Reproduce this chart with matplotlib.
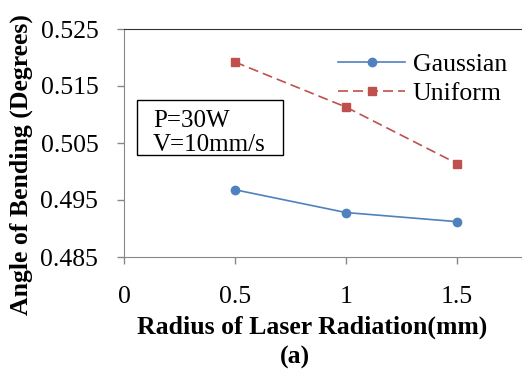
import matplotlib
matplotlib.use("Agg")
import matplotlib.pyplot as plt
from matplotlib.patches import Rectangle

# data
radius   = [0.5, 1.0, 1.5]
gaussian = [0.4968, 0.4928, 0.4912]
uniform  = [0.5192, 0.5113, 0.5014]
yticks   = [0.485, 0.495, 0.505, 0.515, 0.525]
xticks   = [0, 0.5, 1, 1.5]

plt.rcParams["font.family"] = ["Liberation Serif", "DejaVu Serif"]
FS = 18.5

W, H = 522, 369
L, R, T, B = 124, 522, 29, 257


def ax_x(px):
    return (px - L) / (R - L)


def ax_y(py):
    return (B - py) / (B - T)


fig = plt.figure(figsize=(W / 100, H / 100), dpi=100)
ax = fig.add_axes([L / W, 1 - B / H, (R - L) / W, (B - T) / H])

ax.plot(radius, gaussian, color="#4F81BD", marker="o", markersize=6,
        linewidth=1.2, label="Gaussian")
ax.plot(radius, uniform, color="#C0504D", marker="s", markersize=5.5,
        linewidth=1.2, linestyle=(0, (6, 3)), label="Uniform")

ax.set_xlim(0, 1.793)
ax.set_ylim(0.485, 0.525)
ax.set_xticks(xticks)
ax.set_xticklabels(["0", "0.5", "1", "1.5"])
ax.set_yticks(yticks)
ax.set_yticklabels([f"{v:.3f}" for v in yticks])

for s in ("left", "bottom"):
    ax.spines[s].set_color("#888888")
ax.spines["top"].set_color("#333333")
ax.spines["right"].set_visible(False)
ax.tick_params(axis="both", colors="#888888", labelcolor="black",
               labelsize=FS, length=5, width=1)
ax.tick_params(axis="x", pad=16)
ax.tick_params(axis="y", pad=13.5)

ax.set_ylabel("Angle of Bending (Degrees)", fontsize=FS, fontweight="bold")
ax.yaxis.set_label_coords(ax_x(33), ax_y(165))
ax.set_xlabel("Radius of Laser Radiation(mm)", fontsize=FS, fontweight="bold")
ax.xaxis.set_label_coords(ax_x(312), ax_y(316))
fig.text(295 / W, 1 - 357 / H, "(a)", fontsize=FS, fontweight="bold",
         ha="center", va="center")

# parameter box
ax.add_patch(Rectangle((ax_x(137), ax_y(155)), ax_x(283) - ax_x(137),
                       ax_y(100) - ax_y(155), transform=ax.transAxes,
                       facecolor="white", edgecolor="black", linewidth=1,
                       zorder=3))
ax.text(ax_x(153), ax_y(121), "P=30W", transform=ax.transAxes, fontsize=18,
        va="center", ha="left", zorder=4)
ax.text(ax_x(153), ax_y(145), "V=10mm/s", transform=ax.transAxes, fontsize=18,
        va="center", ha="left", zorder=4)

ax.legend(loc="upper right", bbox_to_anchor=(0.982, 0.93), frameon=False,
          fontsize=FS, handlelength=2.6, handletextpad=0.3,
          labelspacing=0.25, borderpad=0.1, borderaxespad=0.2)

fig.savefig("out.png", dpi=100)
